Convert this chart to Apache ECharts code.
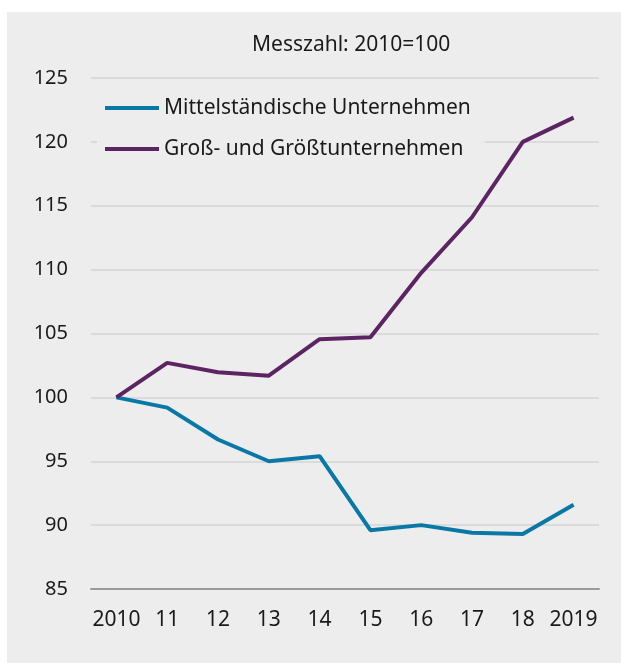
<!DOCTYPE html>
<html>
<head>
<meta charset="utf-8">
<script src="https://cdn.jsdelivr.net/npm/echarts@6/dist/echarts.min.js"></script>
<style>
html,body{margin:0;padding:0;background:#fff;}
#chart{width:621px;height:663px;}
</style>
</head>
<body>
<div id="chart"></div>
<script>
const categories = ['2010','11','12','13','14','15','16','17','18','2019'];
const mittelstand = [100, 99.2, 96.7, 95.0, 95.4, 89.6, 90.0, 89.4, 89.3, 91.6];
const gross = [100, 102.7, 101.96, 101.7, 104.55, 104.7, 109.75, 114.1, 120.0, 121.9];
const seriesNames = ['Mittelständische Unternehmen', 'Groß- und Größtunternehmen'];
const titleText = 'Messzahl: 2010=100';
const yMin = 85, yMax = 125, yStep = 5;

const FONT = 'Noto Sans';
const chart = echarts.init(document.getElementById('chart'), null, {renderer: 'canvas'});
chart.setOption({
  animation: false,
  backgroundColor: '#ffffff',
  graphic: [{
    type: 'rect', z: -10, silent: true,
    shape: {x: 7, y: 12, width: 614, height: 651},
    style: {fill: '#ededed'}
  }],
  title: {
    text: titleText,
    left: 252, top: 35,
    padding: 0,
    textStyle: {fontFamily: FONT, fontSize: 21, fontWeight: 'normal', color: '#1a1a1a'}
  },
  legend: {
    orient: 'vertical',
    left: 97, top: 90,
    padding: [6, 14, 6, 8],
    backgroundColor: '#ededed',
    itemGap: 17,
    itemWidth: 54, itemHeight: 4,
    icon: 'rect',
    textStyle: {fontFamily: FONT, fontSize: 21, color: '#1a1a1a', lineHeight: 24},
    data: seriesNames
  },
  grid: {left: 91, right: 22, top: 78, bottom: 74, containLabel: false},
  xAxis: {
    type: 'category',
    data: categories,
    boundaryGap: true,
    axisLine: {show: true, lineStyle: {color: '#9a9a9a', width: 2}},
    axisTick: {show: false},
    axisLabel: {fontFamily: FONT, fontSize: 21, color: '#1a1a1a', margin: 21, interval: 0}
  },
  yAxis: {
    type: 'value',
    min: yMin, max: yMax, interval: yStep,
    axisLine: {show: false},
    axisTick: {show: false},
    splitLine: {show: true, lineStyle: {color: '#d5d5d5', width: 1.5}},
    axisLabel: {fontFamily: FONT, fontSize: 20, color: '#1a1a1a', margin: 23}
  },
  series: [
    {
      name: seriesNames[0], type: 'line', data: mittelstand,
      symbol: 'none', z: 3,
      lineStyle: {color: '#0a78a6', width: 4},
      itemStyle: {color: '#0a78a6'}
    },
    {
      name: seriesNames[1], type: 'line', data: gross,
      symbol: 'none', z: 3,
      lineStyle: {color: '#5c2462', width: 4},
      itemStyle: {color: '#5c2462'}
    }
  ]
});
</script>
</body>
</html>
